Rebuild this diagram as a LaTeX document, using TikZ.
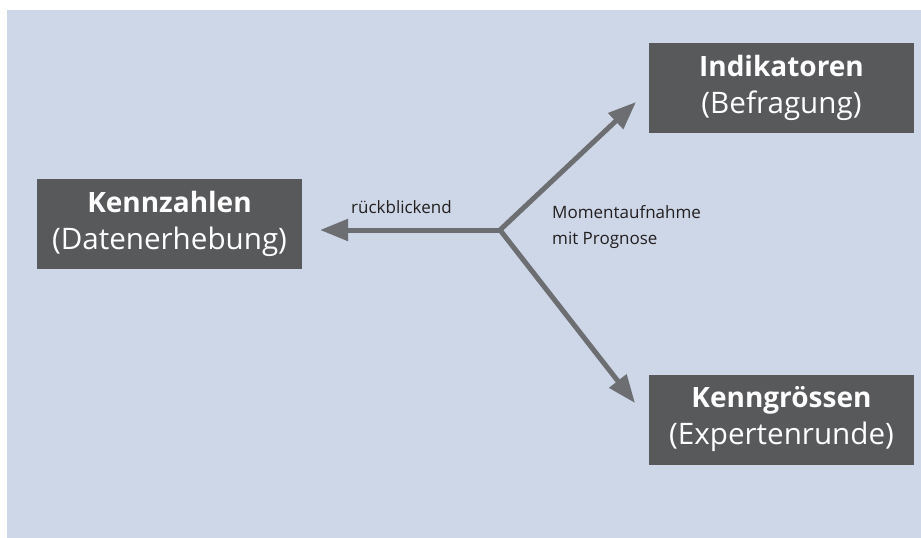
\documentclass[tikz,border=0pt]{standalone}
\usepackage{fontspec}
\setmainfont{Open Sans}
\usetikzlibrary{arrows.meta}
\definecolor{bgblue}{RGB}{206,215,231}
\definecolor{boxgray}{RGB}{88,89,91}
\definecolor{arrowgray}{RGB}{109,110,113}
\definecolor{labeltext}{RGB}{35,31,32}
\newcommand{\subline}{\fontsize{29.6}{37}\selectfont}
\tikzset{
  box/.style={fill=boxgray, text=white, minimum width=265pt, minimum height=90pt,
    inner sep=0pt, align=center, font=\fontsize{28}{37}\selectfont},
  conn/.style={draw=arrowgray, line width=5pt, line cap=round,
    -{Triangle[length=28pt,width=21pt]}},
  lbl/.style={text=labeltext, font=\fontsize{17}{26}\selectfont, inner sep=0pt, align=left}
}
\begin{document}
\begin{tikzpicture}[x=1pt,y=-1pt]
\useasboundingbox (0,0) rectangle (921,538);
\fill[white] (0,0) rectangle (921,538);
\fill[bgblue] (7,10) rectangle (921,538);
\node[box] (kz) at (169.5,224) {\textbf{Kennzahlen}\\\subline(Datenerhebung)};
\node[box] (ind) at (781.5,88) {\textbf{Indikatoren}\\\subline(Befragung)};
\node[box] (kg) at (781.5,419.5) {\textbf{Kenngrössen}\\\subline(Expertenrunde)};
\coordinate (j) at (500,230);
\coordinate (tl) at (320,230);
\coordinate (tu) at (636,102);
\coordinate (td) at (635,403);
\draw[conn] (j) -- (tl);
\draw[conn] (j) -- (tu);
\draw[conn] (j) -- (td);
\node[lbl, anchor=base west] (rb) at (351,213) {rückblickend};
\node[lbl, anchor=north west] (mp) at (552,205) {Momentaufnahme\\mit Prognose};
\end{tikzpicture}
\end{document}
